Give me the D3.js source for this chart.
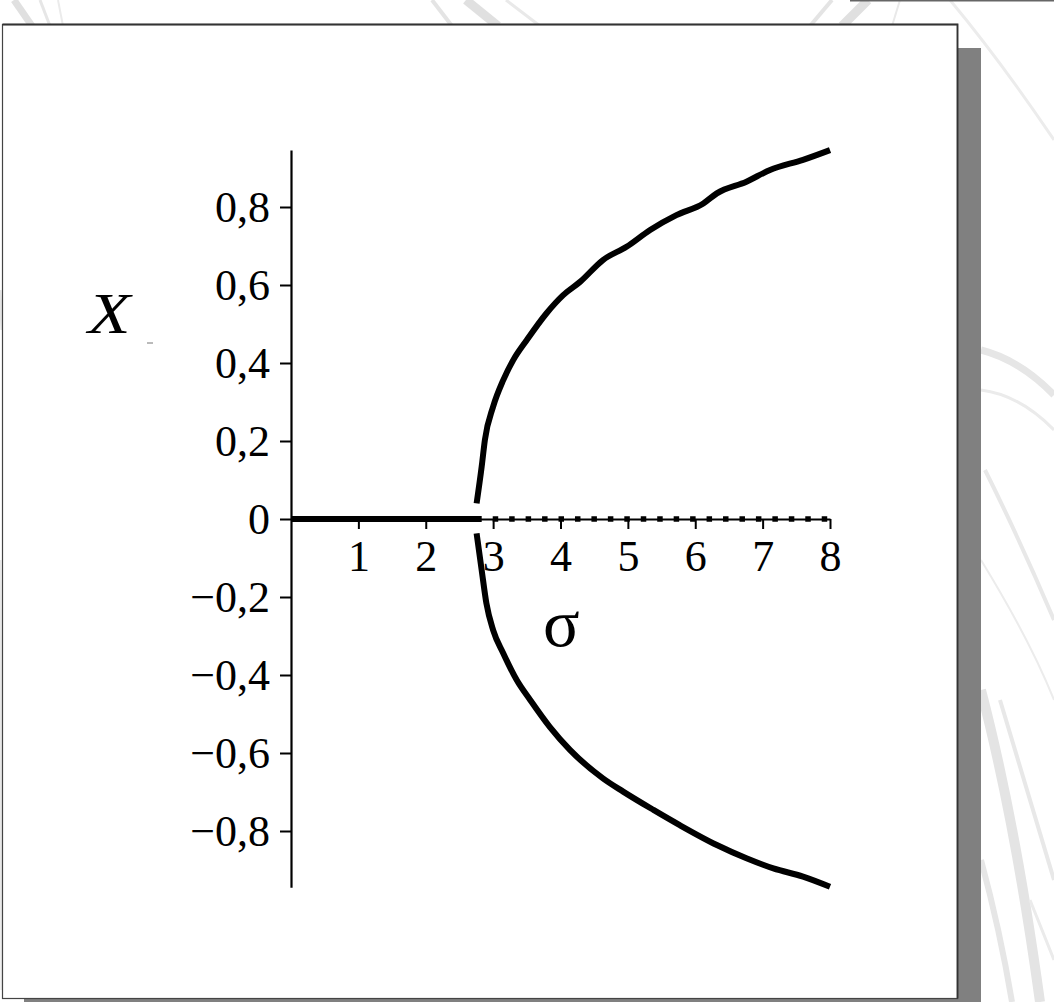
<!DOCTYPE html>
<html>
<head>
<meta charset="utf-8">
<script src="https://cdn.jsdelivr.net/npm/d3@7"></script>
<style>
  html, body { margin: 0; padding: 0; background: #fff; }
  svg { display: block; }
  .tick text { font-family: "Liberation Serif", "DejaVu Serif", serif; font-size: 44px; fill: #000; }
</style>
</head>
<body>
<svg id="chart" width="1054" height="1002"></svg>
<script>
// Pitchfork bifurcation: equilibrium X versus the parameter sigma
// Stable zero branch (before the bifurcation point)
const zeroStableSigma = [0, 2.83];
const zeroStableX = [0, 0];
// Unstable zero branch (after the bifurcation point)
const zeroUnstableSigma = [2.83, 8];
const zeroUnstableX = [0, 0];
// Upper nonzero branch
const upperSigma = [2.755, 2.83, 2.878, 3.0, 3.15, 3.30, 3.50, 3.79, 4.04, 4.29, 4.63, 4.98, 5.33, 5.72, 6.12, 6.32, 6.76, 7.11, 7.60, 8.0];
const upperX = [0.040, 0.134, 0.203, 0.288, 0.356, 0.408, 0.459, 0.527, 0.574, 0.608, 0.664, 0.698, 0.741, 0.779, 0.809, 0.835, 0.865, 0.895, 0.921, 0.946];
// Lower nonzero branch
const lowerSigma = [2.755, 2.83, 2.90, 3.0, 3.15, 3.35, 3.55, 3.84, 4.14, 4.63, 4.93, 5.38, 5.77, 6.32, 6.76, 7.16, 7.60, 8.0];
const lowerX = [-0.037, -0.131, -0.216, -0.285, -0.344, -0.413, -0.464, -0.533, -0.592, -0.665, -0.699, -0.746, -0.785, -0.836, -0.870, -0.896, -0.917, -0.943];

// Axis ticks
const xMajorTicks = [1, 2, 3, 4, 5, 6, 7, 8];
const xMinorTicks = [0.5, 1.5, 2.5, 3.5, 4.5, 5.5, 6.5, 7.5];
const yMajorTicks = [-0.8, -0.6, -0.4, -0.2, 0, 0.2, 0.4, 0.6, 0.8];
const yMinorTicks = [-0.9, -0.7, -0.5, -0.3, -0.1, 0.1, 0.3, 0.5, 0.7, 0.9];
const xDomain = [0, 8];
const yDomain = [-0.944, 0.946];

const svg = d3.select("#chart");

// ---- slide background swooshes ----
const bg = svg.append("g").attr("fill", "none").attr("stroke-linecap", "butt");
const swooshes = [
  ["M14,0 L32,26", 7, "#e0e0e0"], ["M40,0 L50,26", 3, "#e6e6e6"], ["M58,0 L63,26", 2, "#ebebeb"],
  ["M432,0 L452,26", 4, "#e4e4e4"], ["M466,0 L498,26", 9, "#e0e0e0"], ["M506,0 L540,26", 3, "#e9e9e9"],
  ["M832,0 L810,26", 4, "#e4e4e4"], ["M868,0 L842,26", 9, "#e0e0e0"], ["M900,0 L892,26", 2, "#e9e9e9"],
  ["M950,0 Q1000,60 1054,140", 3, "#ececec"],
  ["M981,350 Q1020,360 1054,395", 7, "#e6e6e6"], ["M981,390 Q1020,395 1054,430", 3, "#ebebeb"],
  ["M985,470 Q1020,540 1054,620", 4, "#e8e8e8"], ["M981,560 Q1030,640 1054,700", 2, "#ececec"],
  ["M981,690 Q1015,820 1040,1002", 10, "#e4e4e4"], ["M1000,700 Q1030,800 1054,880", 4, "#e8e8e8"],
  ["M981,860 Q1000,930 1012,1002", 6, "#e6e6e6"], ["M1030,900 L1054,960", 3, "#ebebeb"],
  ["M0,290 L2,330", 3, "#e4e4e4"], ["M0,560 L2,990", 3, "#e8e8e8"]
];
bg.selectAll("path").data(swooshes).join("path")
  .attr("d", d => d[0]).attr("stroke-width", d => d[1]).attr("stroke", d => d[2]);

// small frame edge at the top right
svg.append("line").attr("x1", 850).attr("x2", 1054).attr("y1", 0.8).attr("y2", 0.8)
  .attr("stroke", "#666").attr("stroke-width", 1.6);

// ---- panel with drop shadow ----
svg.append("rect").attr("x", 24).attr("y", 48).attr("width", 957).attr("height", 990).attr("fill", "#808080");
svg.append("rect").attr("x", 2.5).attr("y", 24.5).attr("width", 955).attr("height", 974)
  .attr("fill", "#fff").attr("stroke", "#444").attr("stroke-width", 1.2);
svg.append("path").attr("d", "M2.5,24.5 H957.5 V998.5").attr("fill", "none")
  .attr("stroke", "#333").attr("stroke-width", 1.8);

// ---- scales ----
const x = d3.scaleLinear().domain(xDomain).range([291, 830]);
const y = d3.scaleLinear().domain(yDomain).range([519 + 0.944 * 390, 519 - 0.946 * 390]);

const fmt = v => (v < 0 ? "\u2212" : "") + Math.abs(v).toString().replace(".", ",");

// ---- axes ----
const gx = svg.append("g").attr("transform", `translate(0,${y(0)})`);
gx.call(d3.axisBottom(x).tickValues(xMinorTicks).tickSize(4).tickSizeOuter(0).tickFormat(""));
gx.call(d3.axisBottom(x).tickValues(xMajorTicks).tickSize(10).tickPadding(11).tickSizeOuter(0).tickFormat(d => String(d)));

const gy = svg.append("g").attr("transform", `translate(${x(0)},0)`);
gy.call(d3.axisLeft(y).tickValues(yMinorTicks).tickSize(6).tickSizeOuter(0).tickFormat(""));
gy.call(d3.axisLeft(y).tickValues(yMajorTicks).tickSize(11).tickPadding(10).tickSizeOuter(0).tickFormat(fmt));

svg.selectAll(".domain").attr("stroke", "#000").attr("stroke-width", 2.2);
svg.selectAll(".tick line").attr("stroke", "#000").attr("stroke-width", 2);
svg.selectAll(".tick text").attr("font-family", null).attr("font-size", null);

// ---- branches ----
const toPts = (xs, ys) => xs.map((s, i) => [s, ys[i]]);
const line = d3.line().x(d => x(d[0])).y(d => y(d[1])).curve(d3.curveMonotoneX);

svg.append("path").datum(toPts(zeroStableSigma, zeroStableX)).attr("d", line)
  .attr("fill", "none").attr("stroke", "#000").attr("stroke-width", 6.2);

svg.append("path").datum(toPts(zeroUnstableSigma, zeroUnstableX)).attr("d", line)
  .attr("fill", "none").attr("stroke", "#000").attr("stroke-width", 5.5)
  .attr("stroke-dasharray", "5.5,10.95").attr("stroke-dashoffset", 5.4);

[[upperSigma, upperX], [lowerSigma, lowerX]].forEach(([s, v]) => {
  svg.append("path").datum(toPts(s, v)).attr("d", line)
    .attr("fill", "none").attr("stroke", "#000").attr("stroke-width", 6)
    .attr("stroke-linejoin", "round");
});

// ---- axis titles ----
svg.append("text").attr("transform", "translate(88,333) scale(1.2,1)")
  .attr("font-family", "'Liberation Serif', 'DejaVu Serif', serif").attr("font-style", "italic")
  .attr("font-size", 58).text("X");
svg.append("line").attr("x1", 147).attr("x2", 153).attr("y1", 343).attr("y2", 343)
  .attr("stroke", "#777").attr("stroke-width", 1);
svg.append("text").attr("x", 543).attr("y", 646)
  .attr("font-family", "'Liberation Serif', 'DejaVu Serif', serif")
  .attr("font-size", 68).text("\u03c3");
</script>
</body>
</html>
